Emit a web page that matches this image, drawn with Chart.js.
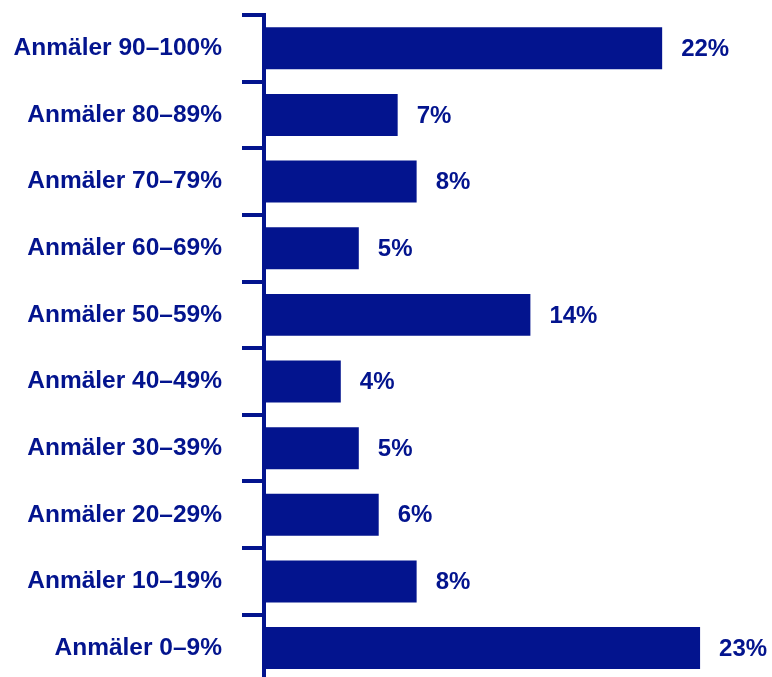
<!DOCTYPE html>
<html>
<head>
<meta charset="utf-8">
<script src="https://cdn.jsdelivr.net/npm/chart.js@4"></script>
<style>
  html, body { margin: 0; padding: 0; background: #fff; overflow: hidden; }
  #wrap { width: 772px; height: 684px; position: relative; }
</style>
</head>
<body>
<div id="wrap"><canvas id="chart"></canvas></div>
<script>
// Kategorier (uppifrån och ned)
const categories = [
  "Anmäler 90\u2013100%",
  "Anmäler 80\u201389%",
  "Anmäler 70\u201379%",
  "Anmäler 60\u201369%",
  "Anmäler 50\u201359%",
  "Anmäler 40\u201349%",
  "Anmäler 30\u201339%",
  "Anmäler 20\u201329%",
  "Anmäler 10\u201319%",
  "Anmäler 0\u20139%"
];

// Stapellängder (procent)
const shares = [21.0, 7.05, 8.05, 5.0, 14.05, 4.05, 5.0, 6.05, 8.05, 23.0];

// Etiketter som visas vid staplarna
const shareLabels = ["22%", "7%", "8%", "5%", "14%", "4%", "5%", "6%", "8%", "23%"];

const blue = "#03148e";
const font = '"Liberation Sans", Arial, sans-serif';

// Skriv värdet till höger om varje stapel
const valueLabels = {
  id: "valueLabels",
  afterDatasetsDraw(chart) {
    const ctx = chart.ctx;
    const meta = chart.getDatasetMeta(0);
    ctx.save();
    ctx.fillStyle = blue;
    ctx.font = "bold 24px " + font;
    ctx.textAlign = "left";
    ctx.textBaseline = "middle";
    meta.data.forEach((bar, i) => {
      ctx.fillText(shareLabels[i], bar.x + 19, bar.y + 1);
    });
    ctx.restore();
  }
};

const ctx = document.getElementById("chart").getContext("2d");

new Chart(ctx, {
  type: "bar",
  data: {
    labels: categories,
    datasets: [
      {
        data: shares,
        backgroundColor: blue,
        borderWidth: 0,
        barPercentage: 0.63,
        categoryPercentage: 1
      }
    ]
  },
  options: {
    indexAxis: "y",
    responsive: true,
    maintainAspectRatio: false,
    animation: false,
    layout: {
      padding: { top: 15, bottom: 2.6, left: 0, right: 34 }
    },
    plugins: {
      legend: { display: false },
      tooltip: { enabled: false }
    },
    scales: {
      x: {
        display: false,
        min: 0,
        max: 25
      },
      y: {
        // fast bredd och ingen extra luft över/under
        afterFit(scale) {
          scale.width = 264;
          scale.paddingTop = 0;
          scale.paddingBottom = 0;
        },
        border: { display: true, color: blue, width: 4 },
        grid: {
          drawOnChartArea: false,
          drawTicks: true,
          tickLength: 22,
          lineWidth: 4,
          color: blue
        },
        ticks: {
          padding: 20,
          color: blue,
          font: { family: font, size: 24.5, weight: "bold" }
        }
      }
    }
  },
  plugins: [valueLabels]
});
</script>
</body>
</html>
